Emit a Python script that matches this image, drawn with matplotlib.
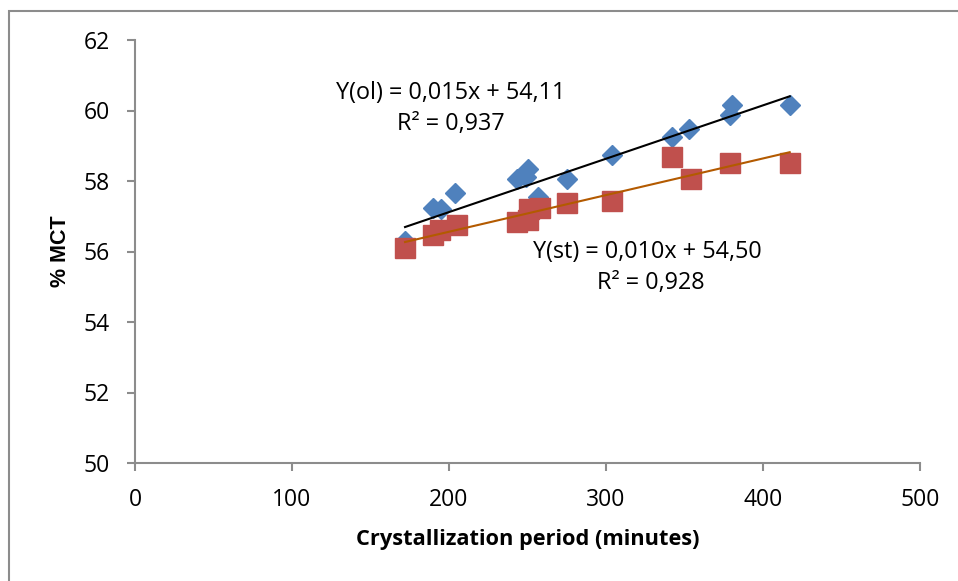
import numpy as np
import matplotlib
matplotlib.use("Agg")
import matplotlib.pyplot as plt
from matplotlib.patches import Rectangle

# Data
ol_x = [172, 190, 195, 204, 243, 250, 249, 257, 275, 304, 342, 353, 379, 380, 417]
ol_y = [56.3, 57.23, 57.2, 57.66, 58.06, 58.34, 58.1, 57.55, 58.06, 58.74, 59.25, 59.48, 59.87, 60.16, 60.16]
st_x = [172, 190, 194, 205, 243, 250, 251, 258, 275, 304, 342, 354, 379, 417]
st_y = [56.1, 56.47, 56.6, 56.75, 56.84, 56.9, 57.2, 57.23, 57.38, 57.42, 58.68, 58.06, 58.5, 58.5]
# trendline coefficients (slope, intercept) as drawn in the reference
ol_fit = [0.01514, 54.09]
st_fit = [0.0104, 54.48]
x_ticks = [0, 100, 200, 300, 400, 500]
y_ticks = [50, 52, 54, 56, 58, 60, 62]
eq_ol = ["Y(ol) = 0,015x + 54,11", "R² = 0,937"]
eq_st = ["Y(st) = 0,010x + 54,50", "R² = 0,928"]

fig = plt.figure(figsize=(9.58, 5.81), dpi=100)
W, H = 958, 581
ax = fig.add_axes([135 / W, (H - 463) / H, (920 - 135) / W, (463 - 40) / H])

# outer frame
fig.patches.append(Rectangle((9 / W, -0.05), 1.2, (H - 11) / H + 0.05, transform=fig.transFigure,
                             fill=False, edgecolor="#8c8c8c", linewidth=1.5, zorder=0))

ax.plot(ol_x, ol_y, linestyle="none", marker="D", markersize=10.5, color="#4F81BD", zorder=3)
ax.plot(st_x, st_y, linestyle="none", marker="s", markersize=14, color="#C0504D", zorder=4)

for xs, p, col in [(ol_x, ol_fit, "black"), (st_x, st_fit, "#B35A00")]:
    xx = np.array([min(xs), max(xs)])
    ax.plot(xx, np.polyval(p, xx), color=col, linewidth=1.5, zorder=5)

ax.set_xlim(0, 500)
ax.set_ylim(50, 62)
ax.set_xticks(x_ticks)
ax.set_yticks(y_ticks)
for s in ["top", "right"]:
    ax.spines[s].set_visible(False)
for s in ["left", "bottom"]:
    ax.spines[s].set_color("#8c8c8c")
    ax.spines[s].set_linewidth(1.5)
ax.tick_params(axis="both", direction="out", length=6, width=1.5, color="#8c8c8c",
               labelsize=16.5, pad=12)
for lab in ax.get_xticklabels() + ax.get_yticklabels():
    lab.set_fontfamily("Open Sans")

ax.set_xlabel("Crystallization period (minutes)", fontsize=15.7, fontweight="bold",
              fontfamily="Open Sans", labelpad=12)
ax.set_ylabel("% MCT", fontsize=15.5, fontweight="bold", fontfamily="Liberation Sans", labelpad=9)

def fx(px):
    return (px - 135) / (920 - 135)

def fy(py):
    return (463 - py) / (463 - 40)

fs = 16.8
ax.text(fx(451), fy(93), eq_ol[0], transform=ax.transAxes, ha="center", va="center",
        fontsize=fs, fontfamily="Open Sans")
ax.text(fx(451), fy(124), eq_ol[1], transform=ax.transAxes, ha="center", va="center",
        fontsize=fs, fontfamily="Open Sans")
ax.text(fx(647), fy(252), eq_st[0], transform=ax.transAxes, ha="center", va="center",
        fontsize=fs, fontfamily="Open Sans")
ax.text(fx(651), fy(283), eq_st[1], transform=ax.transAxes, ha="center", va="center",
        fontsize=fs, fontfamily="Open Sans")

fig.savefig("out.png", dpi=100)
